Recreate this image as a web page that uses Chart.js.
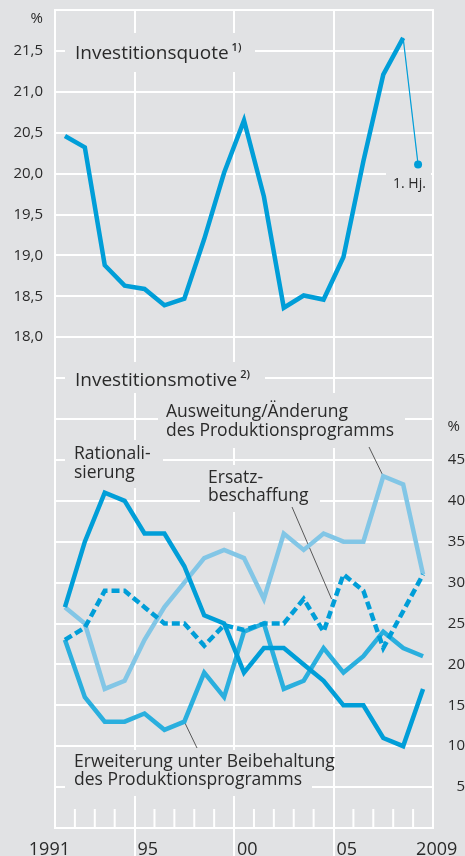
<!DOCTYPE html>
<html lang="de">
<head>
<meta charset="UTF-8">
<title>Investitionsquote und Investitionsmotive</title>
<script src="https://cdn.jsdelivr.net/npm/chart.js@4.4.0/dist/chart.umd.min.js"></script>
<style>
  html, body { margin: 0; padding: 0; background: #e1e2e4; }
</style>
</head>
<body>
<canvas id="myChart" width="465" height="856"></canvas>
<script>
// Jahre 1991 - 2009
var years = [1991, 1992, 1993, 1994, 1995, 1996, 1997, 1998, 1999, 2000,
             2001, 2002, 2003, 2004, 2005, 2006, 2007, 2008, 2009];

// Investitionsquote in % (1991 - 2008), dazu 1. Halbjahr 2009
var quote = [20.46, 20.32, 18.88, 18.63, 18.59, 18.39, 18.47, 19.2, 20.01, 20.65,
             19.72, 18.36, 18.51, 18.46, 18.98, 20.15, 21.21, 21.66];
var quoteH1 = 20.11;

// Investitionsmotive in %
var rational    = [27, 35, 41, 40, 36, 36, 32, 26, 25, 19, 22, 22, 20, 18, 15, 15, 11, 10, 17];
var ausweitung  = [27, 25, 17, 18, 23, 27, 30, 33, 34, 33, 28, 36, 34, 36, 35, 35, 43, 42, 31];
var erweiterung = [23, 16, 13, 13, 14, 12, 13, 19, 16, 24, 25, 17, 18, 22, 19, 21, 24, 22, 21];
var ersatz      = [23, 24.5, 29, 29, 27, 25, 25, 22.3, 24.8, 24.2, 25, 25, 28, 24, 31, 29, 22, 26.5, 31];

// Achsenbeschriftung
var xLabelYears = [1991, 1995, 2000, 2005, 2009];
var xLabels = ['1991', '95', '00', '05', '2009'];
var majorYears = [1995, 2000, 2005];

var BG = '#e1e2e4';
var TEXT = '#2a2a2a';
var DARK = '#009ed8';
var MID = '#2aafde';
var LIGHT = '#82c6e6';
var FONT = "'Open Sans', sans-serif";

function pts(vals) {
    return vals.map(function (v, i) { return { x: years[i] + 0.5, y: v }; });
}

function box(ctx, x1, y1, x2, y2) {
    ctx.fillStyle = BG;
    ctx.fillRect(x1, y1, x2 - x1, y2 - y1);
}

function txt(ctx, s, x, y, size, align, weight) {
    ctx.font = (weight || '400') + ' ' + size + 'px ' + FONT;
    ctx.fillStyle = TEXT;
    ctx.textAlign = align || 'left';
    ctx.textBaseline = 'alphabetic';
    ctx.fillText(s, x, y);
    return ctx.measureText(s).width;
}

function leader(ctx, x1, y1, x2, y2) {
    ctx.strokeStyle = '#333';
    ctx.lineWidth = 0.8;
    ctx.beginPath();
    ctx.moveTo(x1, y1);
    ctx.lineTo(x2, y2);
    ctx.stroke();
}

// keine Zusatzabstaende durch Tick-Beschriftungen
function fixWidth(w) {
    return function (axis) {
        axis.width = w;
        axis.paddingTop = 0;
        axis.paddingBottom = 0;
    };
}

var labelPlugin = {
    id: 'labels',
    beforeDatasetsDraw: function (chart) {
        var ctx = chart.ctx;
        var xs = chart.scales.x;
        var yr = chart.scales.y1;
        var area = chart.chartArea;
        ctx.save();

        // kleine Jahresstriche am unteren Rand
        ctx.strokeStyle = '#fff';
        ctx.lineWidth = 2;
        years.forEach(function (y) {
            if (y === years[0] || majorYears.indexOf(y) >= 0) return;
            var x = xs.getPixelForValue(y);
            ctx.beginPath();
            ctx.moveTo(x, area.bottom - 19);
            ctx.lineTo(x, area.bottom);
            ctx.stroke();
        });

        // Titel oben
        box(ctx, 65, 33, 255, 72);
        var w = txt(ctx, 'Investitionsquote', 75, 59, 19);
        txt(ctx, '1)', 75 + w + 3, 51, 11, 'left', '600');

        box(ctx, 386, 166, 431, 193);
        txt(ctx, '1. Hj.', 393, 188, 14);

        // Titel unten
        box(ctx, 65, 362, 265, 393);
        w = txt(ctx, 'Investitionsmotive', 75, 386, 19);
        txt(ctx, '2)', 75 + w + 3, 378, 11, 'left', '600');

        box(ctx, 158, 393, 405, 448);
        txt(ctx, 'Ausweitung/Änderung', 166, 417, 17.5);
        txt(ctx, 'des Produktionsprogramms', 166, 436, 17.5);

        box(ctx, 65, 440, 163, 488);
        txt(ctx, 'Rationali-', 74, 459, 17.5);
        txt(ctx, 'sierung', 74, 478, 17.5);

        box(ctx, 200, 465, 320, 512);
        txt(ctx, 'Ersatz-', 208, 483, 17.5);
        txt(ctx, 'beschaffung', 208, 501, 17.5);

        box(ctx, 65, 750, 312, 796);
        txt(ctx, 'Erweiterung unter Beibehaltung', 74, 767, 17.5);
        txt(ctx, 'des Produktionsprogramms', 74, 785, 17.5);

        // Hinweislinien
        leader(ctx, 369, 447, xs.getPixelForValue(2007.5), yr.getPixelForValue(43));
        leader(ctx, 292, 507, xs.getPixelForValue(2004.9), yr.getPixelForValue(28));
        leader(ctx, xs.getPixelForValue(1997.5), yr.getPixelForValue(13), 197, 748);

        ctx.restore();
    },
    afterDraw: function (chart) {
        var ctx = chart.ctx;
        var xs = chart.scales.x;
        ctx.save();
        xLabelYears.forEach(function (y, i) {
            var x = xs.getPixelForValue(y);
            if (i === 0) {
                txt(ctx, xLabels[i], x + 15, 855, 18, 'right');
            } else {
                txt(ctx, xLabels[i], x + 3, 855, 18, 'left');
            }
        });
        ctx.font = '15px ' + FONT;
        ctx.fillStyle = TEXT;
        ctx.textBaseline = 'middle';
        ctx.textAlign = 'right';
        ctx.fillText('%', 43, 19);
        ctx.fillText('%', 460, 427);
        ctx.restore();
    }
};

Chart.defaults.font.family = FONT;
Chart.defaults.color = TEXT;

var ctx = document.getElementById('myChart');
var myChart = new Chart(ctx, {
    type: 'line',
    data: {
        datasets: [
            {
                label: 'Investitionsquote',
                data: pts(quote),
                yAxisID: 'y',
                borderColor: DARK,
                borderWidth: 4.5,
                pointRadius: 0
            },
            {
                label: 'Investitionsquote 1. Hj.',
                data: [{ x: years[17] + 0.5, y: quote[17] }, { x: 2009.25, y: quoteH1 }],
                yAxisID: 'y',
                borderColor: DARK,
                borderWidth: 1.2,
                pointRadius: [0, 4],
                pointBackgroundColor: DARK,
                pointBorderWidth: 0
            },
            {
                label: 'Rationalisierung',
                data: pts(rational),
                yAxisID: 'y1',
                borderColor: DARK,
                borderWidth: 4.5,
                pointRadius: 0
            },
            {
                label: 'Ersatzbeschaffung',
                data: pts(ersatz),
                yAxisID: 'y1',
                borderColor: DARK,
                borderWidth: 4.5,
                borderDash: [8, 4],
                pointRadius: 0
            },
            {
                label: 'Erweiterung',
                data: pts(erweiterung),
                yAxisID: 'y1',
                borderColor: MID,
                borderWidth: 4.5,
                pointRadius: 0
            },
            {
                label: 'Ausweitung/Änderung',
                data: pts(ausweitung),
                yAxisID: 'y1',
                borderColor: LIGHT,
                borderWidth: 4.5,
                pointRadius: 0
            }
        ]
    },
    options: {
        responsive: false,
        animation: false,
        events: [],
        layout: { padding: { top: 10, left: 0, right: 0, bottom: 0 } },
        plugins: {
            legend: { display: false },
            tooltip: { enabled: false }
        },
        scales: {
            x: {
                type: 'linear',
                min: 1991,
                max: 2010,
                afterBuildTicks: function (axis) {
                    axis.ticks = majorYears.map(function (v) { return { value: v }; });
                },
                afterFit: function (axis) {
                    axis.height = 28;
                    axis.paddingLeft = 0;
                    axis.paddingRight = 0;
                },
                ticks: { display: false },
                grid: {
                    color: '#fff',
                    lineWidth: 2,
                    drawTicks: true,
                    tickLength: 28
                },
                border: { display: true, color: '#fff', width: 2 }
            },
            y: {
                position: 'left',
                min: 12,
                max: 22,
                afterFit: fixWidth(55),
                ticks: {
                    stepSize: 0.5,
                    padding: 12,
                    font: { size: 15 },
                    callback: function (v) {
                        if (v >= 18 && v <= 21.5) return v.toFixed(1).replace('.', ',');
                        return '';
                    }
                },
                grid: { color: '#fff', lineWidth: 2, drawTicks: false },
                border: { display: true, color: '#fff', width: 2 }
            },
            y1: {
                position: 'right',
                min: 0,
                max: 100,
                afterFit: fixWidth(32),
                ticks: {
                    stepSize: 5,
                    padding: 10,
                    crossAlign: 'far',
                    font: { size: 15 },
                    callback: function (v) {
                        if (v >= 5 && v <= 45) return String(v);
                        return '';
                    }
                },
                grid: { drawOnChartArea: false, drawTicks: false },
                border: { display: true, color: '#fff', width: 2 }
            }
        }
    },
    plugins: [labelPlugin]
});
</script>
</body>
</html>
